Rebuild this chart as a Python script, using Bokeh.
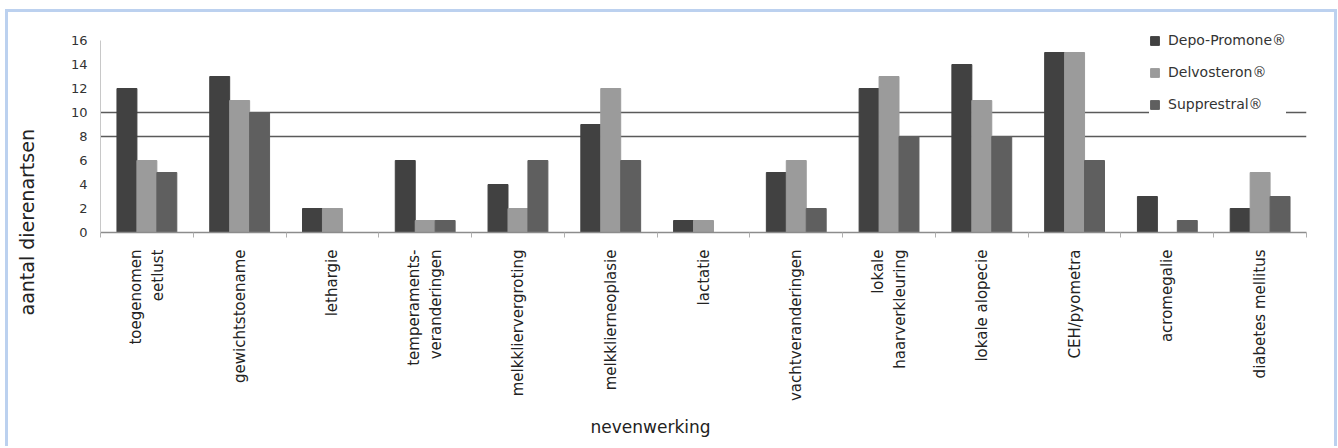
from math import pi
from bokeh.plotting import figure
from bokeh.models import (ColumnDataSource, Range1d, FixedTicker, Legend, LegendItem, Title)
from bokeh.transform import dodge
from bokeh.embed import file_html
from bokeh.resources import INLINE

# ---- data ----
categories = [
    "toegenomen\neetlust",
    "gewichtstoename",
    "lethargie",
    "temperaments-\nveranderingen",
    "melkkliervergroting",
    "melkklierneoplasie",
    "lactatie",
    "vachtveranderingen",
    "lokale\nhaarverkleuring",
    "lokale alopecie",
    "CEH/pyometra",
    "acromegalie",
    "diabetes mellitus",
]
depo_promone = [12, 13, 2, 6, 4, 9, 1, 5, 12, 14, 15, 3, 2]
delvosteron = [6, 11, 2, 1, 2, 12, 1, 6, 13, 11, 15, 0, 5]
supprestral = [5, 10, 0, 1, 6, 6, 0, 2, 8, 8, 6, 1, 3]
series_names = ["Depo-Promone®", "Delvosteron®", "Supprestral®"]
y_ticks = [0, 2, 4, 6, 8, 10, 12, 14, 16]
reference_levels = [8, 10]
y_title = "aantal dierenartsen"
x_title = "nevenwerking"

positions = list(range(1, len(categories) + 1))
boundaries = [p - 0.5 for p in positions] + [positions[-1] + 0.5]

source = ColumnDataSource(dict(x=positions, a=depo_promone, b=delvosteron, c=supprestral))

FONT = "DejaVu Sans"
BORDER = "3px solid #bcd1ef"

p = figure(
    output_backend="svg", toolbar_location=None,
    frame_width=1206, frame_height=210,
    min_border_left=92, min_border_top=10, min_border_right=28, min_border_bottom=212,
    x_range=Range1d(0.5, len(categories) + 0.5), y_range=Range1d(0, 17.5),
    background_fill_color="white", border_fill_color="white",
)
p.styles = {"border-top": BORDER, "border-left": BORDER, "border-right": BORDER,
            "margin-left": "5px", "margin-top": "9px"}
p.outline_line_color = None

bw = 0.215
colors = ["#414141", "#9b9b9b", "#5f5f5f"]
r1 = p.vbar(x=dodge("x", -bw, range=p.x_range), top="a", width=bw, source=source, color=colors[0])
r2 = p.vbar(x=dodge("x", 0, range=p.x_range), top="b", width=bw, source=source, color=colors[1])
r3 = p.vbar(x=dodge("x", bw, range=p.x_range), top="c", width=bw, source=source, color=colors[2])

# grid: only the reference lines
p.xgrid.visible = False
p.ygrid.ticker = FixedTicker(ticks=reference_levels)
p.ygrid.grid_line_color = "#5a5a5a"
p.ygrid.grid_line_width = 1.6

# x axis
xa = p.xaxis[0]
xa.ticker = FixedTicker(ticks=positions, minor_ticks=boundaries)
xa.major_label_overrides = {pos: cat for pos, cat in zip(positions, categories)}
xa.major_label_orientation = pi / 2
xa.major_tick_out = 0
xa.major_tick_in = 0
xa.minor_tick_out = 5
xa.minor_tick_in = 0
xa.minor_tick_line_color = "#b0b0b0"
xa.axis_line_color = "#8c8c8c"
xa.axis_line_width = 1.5
xa.major_label_text_font = FONT
xa.major_label_text_font_size = "15px"
xa.major_label_text_color = "#222222"
xa.major_label_standoff = 12

# y axis
ya = p.yaxis[0]
ya.ticker = FixedTicker(ticks=y_ticks)
ya.bounds = (y_ticks[0], y_ticks[-1])
ya.major_tick_out = 0
ya.major_tick_in = 0
ya.minor_tick_out = 0
ya.minor_tick_in = 0
ya.axis_line_color = "#c8c8c8"
ya.major_label_text_font = FONT
ya.major_label_text_font_size = "13px"
ya.major_label_text_color = "#333333"
ya.major_label_standoff = 13

legend = Legend(
    items=[LegendItem(label=series_names[0], renderers=[r1]),
           LegendItem(label=series_names[1], renderers=[r2]),
           LegendItem(label=series_names[2], renderers=[r3])],
    location=(1049, 118), orientation="vertical",
    label_text_font=FONT, label_text_font_size="14px", label_text_color="#333333",
    glyph_width=11, glyph_height=11, label_height=20, spacing=12, label_standoff=8,
    padding=7, margin=0, border_line_color=None, background_fill_color="white",
    background_fill_alpha=1.0,
)
p.add_layout(legend)

# spacer between the y tick labels and the y title
p.add_layout(Title(text=" ", text_font_size="1px", standoff=22), "left")
p.add_layout(Title(text=y_title, align="left", offset=-83, text_font=FONT,
                   text_font_size="19px", text_font_style="normal", text_color="#222222",
                   standoff=10), "left")
p.add_layout(Title(text=x_title, align="left", offset=490, text_font=FONT,
                   text_font_size="17px", text_font_style="normal", text_color="#222222",
                   standoff=20), "below")

open("out.html", "w").write(file_html(p, INLINE))
